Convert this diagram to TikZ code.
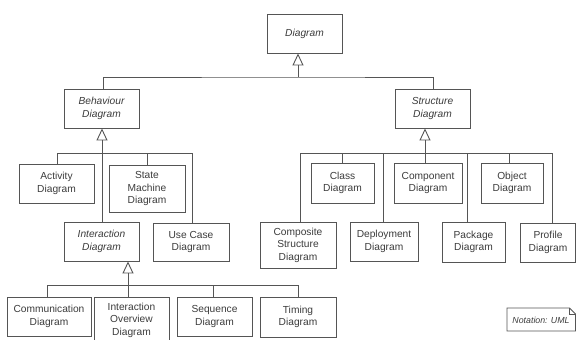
\documentclass[tikz,border=0pt]{standalone}
\usepackage{fontspec}
\setmainfont{Liberation Sans}
\usetikzlibrary{arrows.meta}
\definecolor{umlline}{RGB}{85,85,85}
\definecolor{umltext}{RGB}{60,60,60}
\tikzset{d/.style={draw=umlline, line width=0.9pt, fill=white, align=center, inner sep=0pt,
    text=umltext, font=\fontsize{10.2}{12.5}\selectfont}}
\tikzset{a/.style={d, font=\fontsize{10.2}{12.5}\selectfont\itshape}}
\tikzset{sz/.style 2 args={minimum width=#1pt, minimum height=#2pt}}
\tikzset{c/.style={draw=umlline, line width=0.9pt}}
\tikzset{g/.style={c, -{Triangle[open, width=11pt, length=12pt]}}}

\begin{document}
\begin{tikzpicture}[x=1pt,y=-1pt]
  \useasboundingbox (0,0) rectangle (576,340);
  \clip (0,0) rectangle (576,340);
  % abstract kinds
  \node[a, sz={75}{39}] (diag) at (304.5,33.5) {Diagram};
  \node[a, sz={75}{39}] (beh) at (101.5,108.5) {Behaviour\\Diagram};
  \node[a, sz={75}{39}] (str) at (432.5,108.5) {Structure\\Diagram};
  \node[a, sz={75}{39}] (int) at (101.5,241.5) {Interaction\\Diagram};
  % behaviour diagrams
  \node[d, sz={75}{39}] (act) at (56.5,183.5) {Activity\\Diagram};
  \node[d, sz={76}{47}] (sm) at (147,188.5) {State\\Machine\\Diagram};
  \node[d, sz={76}{38}] (uc) at (191,242) {Use Case\\Diagram};
  \node[d, sz={84}{39}] (comm) at (49,316.5) {Communication\\Diagram};
  \node[d, sz={75}{46}] (io) at (131.5,320) {Interaction\\Overview\\Diagram};
  \node[d, sz={75}{39}] (seq) at (214.5,316.5) {Sequence\\Diagram};
  \node[d, sz={76}{40}] (tim) at (298,317) {Timing\\Diagram};
  % structure diagrams
  \node[d, sz={63}{40}] (cls) at (342.5,183) {Class\\Diagram};
  \node[d, sz={68}{40}] (cmp) at (428,183) {Component\\Diagram};
  \node[d, sz={62}{40}] (obj) at (512,183) {Object\\Diagram};
  \node[d, sz={76}{46}] (csd) at (298,245) {Composite\\Structure\\Diagram};
  \node[d, sz={68}{39}] (dep) at (384,241.5) {Deployment\\Diagram};
  \node[d, sz={63}{40}] (pkg) at (473.5,242) {Package\\Diagram};
  \node[d, sz={55}{39}] (prf) at (548,242.5) {Profile\\Diagram};

  % generalisation buses
  \coordinate (top) at (298,77);
  \coordinate (bb) at (102,153);
  \coordinate (sb) at (425,153);
  \coordinate (ib) at (128,285);

  \draw[g] (top) -- ([xshift=-6.5pt]diag.south);
  \draw[c] ([xshift=1.5pt]beh.north) |- (top) -| ([xshift=0.5pt]str.north);

  \draw[g] (bb) -- ([xshift=0.5pt]beh.south);
  \draw[c] ([xshift=0.5pt]act.north) |- ([xshift=1pt]uc.north |- bb) -- ([xshift=1pt]uc.north);
  \draw[c] (sm.north) -- (sm.north |- bb);
  \draw[c] (bb) -- ([xshift=0.5pt]int.north);

  \draw[g] (sb) -- ([xshift=-7.5pt]str.south);
  \draw[c] ([xshift=2pt]csd.north) |- ([xshift=4pt]prf.north |- sb) -- ([xshift=4pt]prf.north);
  \draw[c] ([xshift=-0.5pt]cls.north) -- ([xshift=-0.5pt]cls.north |- sb);
  \draw[c] ([xshift=-1pt]dep.north) -- ([xshift=-1pt]dep.north |- sb);
  \draw[c] (sb) -- ([xshift=-3pt]cmp.north);
  \draw[c] ([xshift=-6.5pt]pkg.north) -- ([xshift=-6.5pt]pkg.north |- sb);
  \draw[c] ([xshift=-3pt]obj.north) -- ([xshift=-3pt]obj.north |- sb);

  \draw[g] (ib) -- ([xshift=26.5pt]int.south);
  \draw[c] ([xshift=-2pt]comm.north) |- (tim.north |- ib) -- (tim.north);
  \draw[c] (ib) -- ([xshift=-3.5pt]io.north);
  \draw[c] ([xshift=-1.5pt]seq.north) -- ([xshift=-1.5pt]seq.north |- ib);

  % note
  \node[text=umltext, font=\fontsize{8.8}{10}\selectfont\itshape, inner sep=0pt] (note) at (541,320) {Notation: UML};
  \draw[c] (507,308) -- (569.5,308) -- (575.5,314) -- (575.5,331) -- (507,331) -- cycle;
  \draw[c] (569.5,308) -- (569.5,314) -- (575.5,314);
\end{tikzpicture}
\end{document}
